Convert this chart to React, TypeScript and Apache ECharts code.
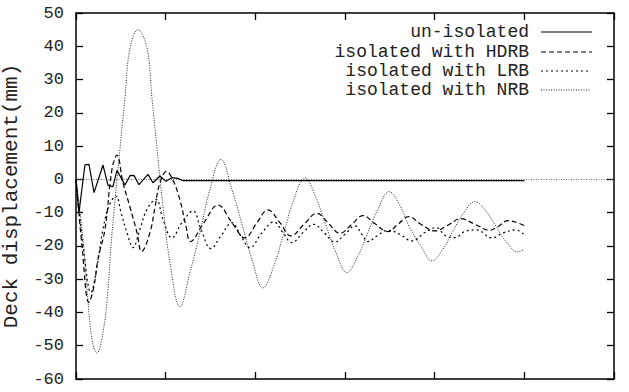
import React, { useEffect, useRef } from "react";
import * as echarts from "echarts";

// time axis (arbitrary units, tick every 10)
const unisoTime = [0, 0.33, 1.0, 1.45, 2.01, 3.01, 3.57, 4.12, 4.57, 5.46, 6.02, 6.47, 7.02, 8.03, 8.58, 9.36, 10.03, 10.7, 11.37, 11.93, 20, 30, 40, 50];
const unisoDisp = [0, -10, 4.4, 4.5, -4, 4.3, -1.8, -2.2, 2.7, -1.7, 1.1, 1.2, -1.6, 1.5, -1, 1, -0.6, 0.5, 0.3, -0.4, -0.4, -0.4, -0.4, -0.4];

const hdrbTime = [0, 0.67, 1.45, 2.01, 2.45, 3.23, 4.01, 4.57, 5.24, 6.02, 6.8, 7.32, 8.25, 8.81, 9.36, 10.09, 10.81, 11.59, 12.26, 12.76, 14.27, 15.83, 17.39, 18.84, 20.18, 21.4, 22.74, 23.97, 25.42, 26.87, 28.09, 29.43, 30.77, 32.0, 33.33, 34.78, 35.9, 37.12, 38.46, 40.02, 41.47, 42.92, 44.48, 46.15, 47.16, 48.16, 49.16, 50];
const hdrbDisp = [0, -20, -37, -32, -24, -15, 3, 7.3, -1, -8.3, -16, -21.7, -16, -8.3, -1, 2.4, -0.2, -6.2, -14, -18.7, -13, -7.7, -13, -17.6, -13, -9.2, -13, -17, -13.5, -10.2, -13, -16.2, -13.5, -10.9, -13.3, -15.7, -13.5, -11.2, -13.5, -15.5, -13.8, -11.8, -13.5, -15.3, -14, -12.4, -13, -13.9];

const lrbTime = [0, 0.89, 1.67, 2.23, 3.01, 3.68, 4.46, 5.02, 5.69, 6.35, 7.13, 7.92, 8.92, 9.7, 10.7, 11.82, 13.04, 13.94, 15.05, 16.16, 17.39, 18.39, 19.4, 20.74, 22.07, 23.08, 24.08, 25.31, 26.53, 27.65, 28.88, 29.99, 31.1, 31.88, 32.55, 33.56, 34.78, 36.12, 37.46, 38.91, 40.13, 41.25, 42.25, 43.48, 44.71, 46.38, 47.72, 49.05, 50];
const lrbDisp = [0, -22, -34, -28, -15, -8, -5, -10, -16, -20.5, -15, -9, -6, -12, -17.6, -13, -9.5, -15, -20.8, -17, -13, -17, -20.5, -16, -12.8, -16, -19, -16, -13.5, -16, -18.8, -16.5, -14, -16.5, -18.7, -17, -15.3, -16.5, -18.5, -16, -14.5, -17, -17.5, -15.5, -15.2, -17.6, -16, -15.2, -16.7];

const nrbTime = [0, 0.78, 1.23, 1.78, 2.34, 3.01, 3.57, 3.96, 4.91, 5.46, 6.02, 6.91, 7.92, 8.47, 9.03, 9.7, 10.48, 11.59, 12.71, 13.82, 14.94, 16.16, 17.39, 18.51, 19.62, 20.85, 22.07, 23.19, 24.3, 25.53, 26.76, 27.87, 28.99, 30.21, 31.44, 32.55, 33.67, 34.92, 36.15, 37.12, 38.46, 39.69, 40.91, 42.03, 43.25, 44.48, 45.71, 46.82, 48.05, 49.28, 50];
const nrbDisp = [0, -18, -33, -48, -52.2, -46, -33, -18, 9.4, 24.5, 39.4, 45, 39.4, 24.5, 9.4, -8, -25, -38.3, -28, -16, -3, 6, -3, -13.5, -24, -32.6, -26, -16, -6, 0.5, -5.5, -13.8, -22, -28, -23, -16, -9, -3.7, -8, -14, -20, -24.5, -21, -15.6, -10, -6.7, -9.5, -14, -19, -21.8, -21];

const seriesNames = ["un-isolated", "isolated with HDRB", "isolated with LRB", "isolated with NRB"];
const yTicks = { min: -60, max: 50, interval: 10 };
const xTicks = { min: 0, max: 60, interval: 10 };

const zip = (t: number[], v: number[]) => t.map((x, i) => [x, v[i]]);

const FONT = "Liberation Mono";

const seriesStyles = [
  { color: "#000", width: 1.2, type: "solid" as any },
  { color: "#000", width: 1.2, type: [5, 3] as any },
  { color: "#000", width: 1.2, type: [2, 3] as any },
  { color: "#222", width: 1, type: [1, 1.5] as any },
];

export default function App() {
  const ref = useRef<HTMLDivElement>(null);
  useEffect(() => {
    if (!ref.current) return;
    const chart = echarts.init(ref.current, undefined, { renderer: "svg" });
    const axisLine = { show: true, onZero: false, lineStyle: { color: "#000", width: 1.5 } };
    const tick = { show: true, inside: true, length: 7, lineStyle: { color: "#000", width: 1.3 } };
    const dashOf = (t: any) => (t === "solid" ? undefined : t);

    const legendGraphics: any[] = [];
    const rowY = [32, 52, 71, 90];
    const sampleEnd = [592, 592, 589, 591];
    seriesNames.forEach((name, i) => {
      legendGraphics.push({
        type: "text",
        x: 529,
        y: rowY[i],
        style: {
          text: name,
          fontFamily: FONT,
          fontSize: 18,
          fill: "#222",
          align: "right",
          verticalAlign: "middle",
        },
      });
      legendGraphics.push({
        type: "line",
        shape: { x1: 541, y1: rowY[i], x2: sampleEnd[i], y2: rowY[i] },
        style: {
          stroke: seriesStyles[i].color,
          lineWidth: seriesStyles[i].width,
          lineDash: dashOf(seriesStyles[i].type),
        },
      });
    });

    const datasets = [
      zip(unisoTime, unisoDisp),
      zip(hdrbTime, hdrbDisp),
      zip(lrbTime, lrbDisp),
      zip(nrbTime, nrbDisp),
    ];

    chart.setOption({
      animation: false,
      backgroundColor: "#fff",
      grid: { left: 76, top: 13, right: 15, bottom: 13, containLabel: false, outerBoundsMode: "none" },
      graphic: legendGraphics,
      xAxis: [
        { type: "value", ...xTicks, position: "bottom", axisLine, axisTick: tick, axisLabel: { show: false }, splitLine: { show: false } },
        { type: "value", ...xTicks, position: "top", axisLine, axisTick: tick, axisLabel: { show: false }, splitLine: { show: false } },
      ],
      yAxis: [
        {
          type: "value",
          ...yTicks,
          position: "left",
          axisLine,
          axisTick: tick,
          splitLine: { show: false },
          axisLabel: { fontFamily: FONT, fontSize: 17, color: "#222", margin: 12 },
          name: "Deck displacement(mm)",
          nameLocation: "middle",
          nameGap: 50,
          nameRotate: 90,
          nameTextStyle: { fontFamily: FONT, fontSize: 21, color: "#222" },
        },
        { type: "value", ...yTicks, position: "right", axisLine, axisTick: tick, axisLabel: { show: false }, splitLine: { show: false } },
      ],
      series: seriesNames.map((name, i) => ({
        name,
        type: "line",
        symbol: "none",
        smooth: i === 0 ? false : 0.4,
        data: datasets[i],
        lineStyle: { ...seriesStyles[i] },
        itemStyle: { color: seriesStyles[i].color },
        z: i === 0 ? 5 : 3,
        markLine:
          i === 0
            ? {
                silent: true,
                symbol: "none",
                label: { show: false },
                lineStyle: { color: "#666", width: 1, type: [1, 1.5] },
                data: [{ yAxis: 0 }],
              }
            : undefined,
      })),
    });
    return () => chart.dispose();
  }, []);
  return <div ref={ref} style={{ position: "fixed", left: 0, top: 0, width: 629, height: 392 }} />;
}
